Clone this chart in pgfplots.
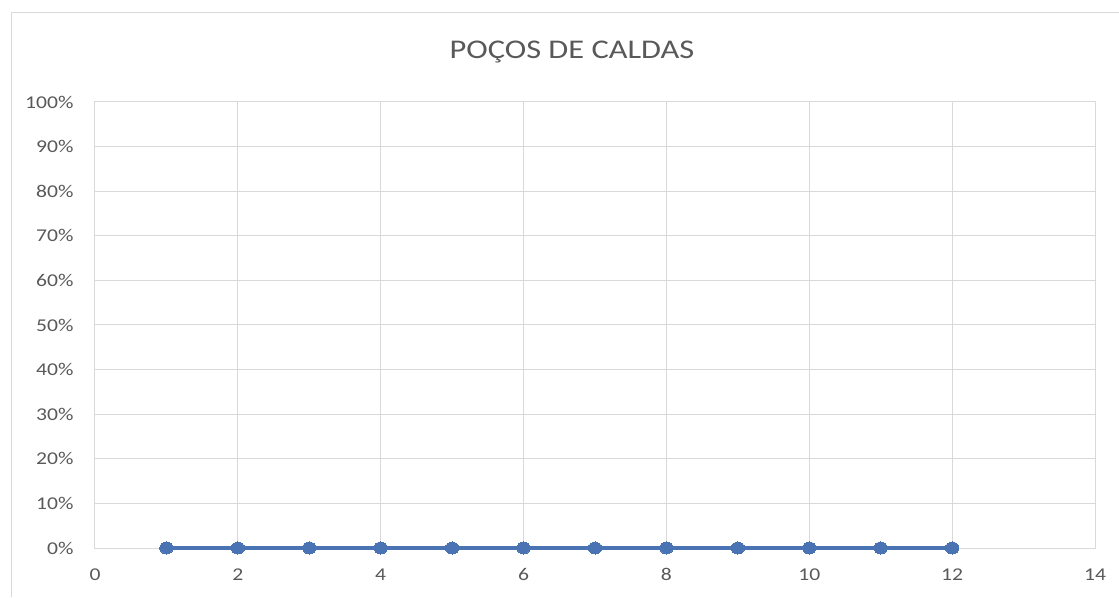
\documentclass[border=0pt]{standalone}
\usepackage{pgfplots}
\pgfplotsset{compat=1.18}
\usepackage{fontspec}
\setmainfont{Carlito}[FakeStretch=1.2]
\definecolor{txtgray}{HTML}{595959}
\definecolor{gridgray}{HTML}{D9D9D9}
\definecolor{seriesblue}{HTML}{4A73B3}
\begin{document}
\begin{tikzpicture}[x=1pt,y=1pt]
\useasboundingbox (0,0) rectangle (1119,597);
% chart frame
\draw[gridgray, line width=1pt] (11,0) -- (11,584) -- (1119,584);
% title
\node[txtgray, anchor=base, font=\fontsize{27}{32}\selectfont] at (572,538) {POÇOS DE CALDAS};
\begin{axis}[
  at={(95pt,49pt)}, anchor=south west,
  scale only axis, width=1000pt, height=446pt,
  xmin=0, xmax=14, ymin=0, ymax=100,
  xtick={0,2,...,14}, ytick={0,10,...,100},
  yticklabel={\pgfmathprintnumber{\tick}\%},
  grid=major,
  major grid style={gridgray, line width=1pt},
  axis line style={gridgray, line width=1pt},
  major tick length=0pt,
  tick label style={txtgray, font=\fontsize{18}{20}\selectfont},
  /pgf/number format/assume math mode=true,
  xticklabel style={yshift=-17pt},
  yticklabel style={xshift=-18pt},
  clip=false,
]
\addplot[seriesblue, line width=3.5pt, mark=*, mark size=6pt,
  mark options={seriesblue, line width=0pt, xscale=1.12}]
  coordinates {(1,0) (2,0) (3,0) (4,0) (5,0) (6,0) (7,0) (8,0) (9,0) (10,0) (11,0) (12,0)};
\end{axis}
\end{tikzpicture}
\end{document}
